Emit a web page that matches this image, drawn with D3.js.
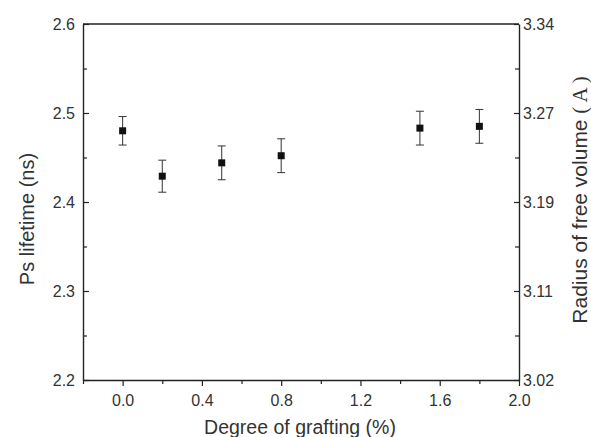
<!DOCTYPE html>
<html>
<head>
<meta charset="utf-8">
<script src="https://cdn.jsdelivr.net/npm/d3@7"></script>
<style>
  body { margin: 0; background: #fff; }
  text { font-family: "Liberation Sans", Arial, sans-serif; fill: #333; }
</style>
</head>
<body>
<svg id="chart" width="591" height="437"></svg>
<script>
const grafting = [0.0, 0.2, 0.5, 0.8, 1.5, 1.8];
const lifetime = [2.480, 2.429, 2.444, 2.452, 2.483, 2.485];
const lifetimeErr = [0.016, 0.018, 0.019, 0.019, 0.019, 0.019];
const xTicks = [0.0, 0.4, 0.8, 1.2, 1.6, 2.0];
const yTicks = [2.2, 2.3, 2.4, 2.5, 2.6];
const radiusLabels = ["3.02", "3.11", "3.19", "3.27", "3.34"];

const margin = { top: 24, right: 72, bottom: 57, left: 83 };
const width = 591 - margin.left - margin.right;
const height = 437 - margin.top - margin.bottom;

const svg = d3.select("#chart");
const g = svg.append("g").attr("transform", `translate(${margin.left},${margin.top})`);

const x = d3.scaleLinear().domain([-0.2, 2.0]).range([0, width]);
const y = d3.scaleLinear().domain([2.2, 2.6]).range([height, 0]);

const data = grafting.map((d, i) => ({ x: d, y: lifetime[i], e: lifetimeErr[i] }));

// minor ticks
const xMinor = [-0.2, 0.2, 0.6, 1.0, 1.4, 1.8];
const yMinor = [2.25, 2.35, 2.45, 2.55];

// top frame line
g.append("line").attr("x1", 0).attr("x2", width).attr("y1", 0).attr("y2", 0)
  .attr("stroke", "#222").attr("stroke-width", 1.4);

// bottom axis
const xAxis = g.append("g").attr("transform", `translate(0,${height})`)
  .call(d3.axisBottom(x).tickValues(xTicks).tickFormat(d3.format(".1f")).tickSize(6).tickSizeOuter(0));
xAxis.selectAll("text").attr("font-size", 16).attr("y", 15);
g.append("g").attr("transform", `translate(0,${height})`)
  .call(d3.axisBottom(x).tickValues(xMinor).tickFormat("").tickSize(4).tickSizeOuter(0))
  .select(".domain").remove();

// left axis, ticks inward
const yAxis = g.append("g")
  .call(d3.axisLeft(y).tickValues(yTicks).tickFormat(d3.format(".1f")).tickSize(-6).tickSizeOuter(0));
yAxis.selectAll("text").attr("font-size", 16).attr("x", -8);
g.append("g")
  .call(d3.axisLeft(y).tickValues(yMinor).tickFormat("").tickSize(-4).tickSizeOuter(0))
  .select(".domain").remove();

// right axis: radius labels at the same positions
const yAxisR = g.append("g").attr("transform", `translate(${width},0)`)
  .call(d3.axisRight(y).tickValues(yTicks).tickFormat((d, i) => radiusLabels[i]).tickSize(-5).tickSizeOuter(0));
yAxisR.selectAll("text").attr("font-size", 16).attr("x", 4);
g.append("g").attr("transform", `translate(${width},0)`)
  .call(d3.axisRight(y).tickValues(yMinor).tickFormat("").tickSize(-4).tickSizeOuter(0))
  .select(".domain").remove();

svg.selectAll(".domain").attr("stroke", "#222").attr("stroke-width", 1.4);
svg.selectAll(".tick line").attr("stroke", "#222").attr("stroke-width", 1.2);

// error bars
const eb = g.selectAll(".err").data(data).join("g").attr("class", "err");
eb.append("line")
  .attr("x1", d => x(d.x)).attr("x2", d => x(d.x))
  .attr("y1", d => y(d.y + d.e)).attr("y2", d => y(d.y - d.e))
  .attr("stroke", "#333").attr("stroke-width", 1);
[1, -1].forEach(s => {
  eb.append("line")
    .attr("x1", d => x(d.x) - 4).attr("x2", d => x(d.x) + 4)
    .attr("y1", d => y(d.y + s * d.e)).attr("y2", d => y(d.y + s * d.e))
    .attr("stroke", "#333").attr("stroke-width", 1);
});

// markers
g.selectAll(".pt").data(data).join("rect").attr("class", "pt")
  .attr("x", d => x(d.x) - 3.5).attr("y", d => y(d.y) - 3.5)
  .attr("width", 7).attr("height", 7).attr("fill", "#111");

// axis titles
svg.append("text")
  .attr("x", 300).attr("y", 434)
  .attr("text-anchor", "middle").attr("font-size", 19.5)
  .text("Degree of grafting (%)");
svg.append("text")
  .attr("transform", `translate(34,219) rotate(-90)`)
  .attr("text-anchor", "middle").attr("font-size", 20)
  .text("Ps lifetime (ns)");
const rt = svg.append("text")
  .attr("transform", `translate(587,200) rotate(-90)`)
  .attr("text-anchor", "middle").attr("font-size", 21);
rt.append("tspan").text("Radius of free volume ");
rt.append("tspan").attr("font-family", "'Liberation Serif', serif").text("( A )");
</script>
</body>
</html>
